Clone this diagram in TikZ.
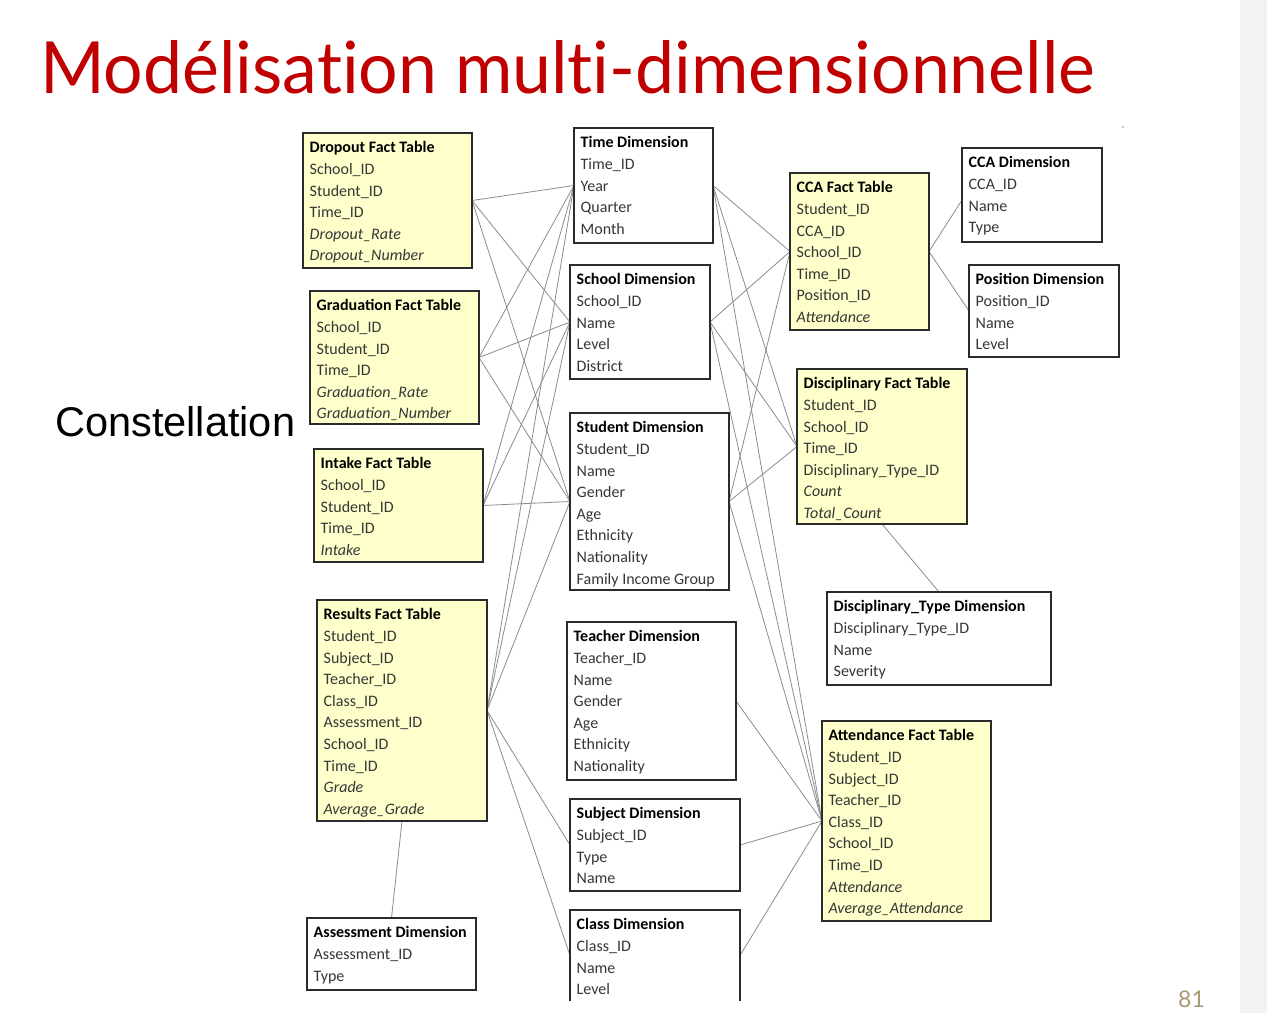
\documentclass[tikz,border=0pt]{standalone}
\usepackage{fontspec}
\setmainfont{Carlito}
\newfontfamily\titlefont[Ligatures=NoCommon]{Lato}
\newfontfamily\arialfont{Liberation Sans}
\usetikzlibrary{backgrounds}
\definecolor{factyellow}{HTML}{FFFFCC}
\definecolor{titlered}{HTML}{C00000}
\definecolor{linegrey}{HTML}{8C8C8C}
\definecolor{boxline}{HTML}{2B2B2B}
\definecolor{bodytext}{HTML}{363636}
\definecolor{pagegrey}{HTML}{F2F2F2}
\definecolor{numtan}{HTML}{A89A72}
\tikzset{
  tbl/.style={draw=boxline, line width=1.4pt, anchor=north west, inner sep=0pt, outer sep=0pt},
  fact/.style={tbl, fill=factyellow},
  dimn/.style={tbl, fill=white},
  txt/.style={anchor=north west, inner sep=0pt, align=left, text=bodytext,
    font=\fontsize{16}{21.6}\selectfont},
  conn/.style={draw=linegrey, line width=0.8pt},
}
\newcommand\hd[1]{\strut\textbf{\textcolor{black}{#1}}}
\newcommand\mkbox[7]{%
  \node[#2, minimum width=#5pt, minimum height=#6pt] (#1) at (#3,#4) {};
  \node[txt] (#1t) at ([shift={(6.5pt,-4.6pt)}]#1.north west) {#7};
}
\begin{document}
\begin{tikzpicture}[x=1pt,y=-1pt]
\useasboundingbox (0,0) rectangle (1267,1013);

% fact tables (left)
\mkbox{drop}{fact}{303}{133}{169}{135}{\hd{Dropout Fact Table}\\School\_ID\\Student\_ID\\Time\_ID\\\textit{Dropout\_Rate}\\\textit{Dropout\_Number}}
\mkbox{grad}{fact}{310}{291}{169}{133}{\hd{Graduation Fact Table}\\School\_ID\\Student\_ID\\Time\_ID\\\textit{Graduation\_Rate}\\\textit{Graduation\_Number}}
\mkbox{intake}{fact}{314}{449}{169}{113}{\hd{Intake Fact Table}\\School\_ID\\Student\_ID\\Time\_ID\\\textit{Intake}}
\mkbox{res}{fact}{317}{600}{170}{221}{\hd{Results Fact Table}\\Student\_ID\\Subject\_ID\\Teacher\_ID\\Class\_ID\\Assessment\_ID\\School\_ID\\Time\_ID\\\textit{Grade}\\\textit{Average\_Grade}}
\mkbox{assess}{dimn}{307}{918}{169}{72}{\hd{Assessment Dimension}\\Assessment\_ID\\Type}

% middle dimensions
\mkbox{time}{dimn}{574}{128}{139}{115}{\hd{Time Dimension}\\Time\_ID\\Year\\Quarter\\Month}
\mkbox{school}{dimn}{570}{265}{140}{114}{\hd{School Dimension}\\School\_ID\\Name\\Level\\District}
\mkbox{student}{dimn}{570}{413}{159}{177}{\hd{Student Dimension}\\Student\_ID\\Name\\Gender\\Age\\Ethnicity\\Nationality\\Family Income Group}
\mkbox{teacher}{dimn}{567}{622}{169}{158}{\hd{Teacher Dimension}\\Teacher\_ID\\Name\\Gender\\Age\\Ethnicity\\Nationality}
\mkbox{subject}{dimn}{570}{799}{170}{92}{\hd{Subject Dimension}\\Subject\_ID\\Type\\Name}
\mkbox{class}{dimn,draw=none}{570}{910}{170}{91}{\hd{Class Dimension}\\Class\_ID\\Name\\Level}
\draw[draw=boxline, line width=1.4pt] (class.south west) -- (class.north west) -- (class.north east) -- (class.south east);

% right side
\mkbox{cca}{fact}{790}{173}{139}{157}{\hd{CCA Fact Table}\\Student\_ID\\CCA\_ID\\School\_ID\\Time\_ID\\Position\_ID\\\textit{Attendance}}
\mkbox{ccadim}{dimn}{962}{148}{140}{94}{\hd{CCA Dimension}\\CCA\_ID\\Name\\Type}
\mkbox{posdim}{dimn}{969}{265}{150}{92}{\hd{Position Dimension}\\Position\_ID\\Name\\Level}
\mkbox{disc}{fact}{797}{369}{170}{155}{\hd{Disciplinary Fact Table}\\Student\_ID\\School\_ID\\Time\_ID\\Disciplinary\_Type\_ID\\\textit{Count}\\\textit{Total\_Count}}
\mkbox{dtype}{dimn}{827}{592}{224}{93}{\hd{Disciplinary\_Type Dimension}\\Disciplinary\_Type\_ID\\Name\\Severity}
\mkbox{attend}{fact}{822}{721}{169}{200}{\hd{Attendance Fact Table}\\Student\_ID\\Subject\_ID\\Teacher\_ID\\Class\_ID\\School\_ID\\Time\_ID\\\textit{Attendance}\\\textit{Average\_Attendance}}

% texts
\node[anchor=base west, inner sep=0pt] (title) at (40,93)
  {\resizebox{1055pt}{53pt}{\titlefont\color{titlered}Modélisation multi-dimensionnelle}};
\node[anchor=base west, inner sep=0pt] (constel) at (55,436)
  {\resizebox{240pt}{!}{\arialfont Constellation}};
\node[anchor=base west, inner sep=0pt, text=numtan, font=\titlefont\fontsize{23}{23}\selectfont] (pagenum) at (1178,1007) {81};

\begin{pgfonlayer}{background}
  \fill[white] (0,0) rectangle (1267,1013);
  \fill[pagegrey] (1240,0) rectangle (1267,1013);
  \fill[linegrey] (1123,127) circle (0.8);
  % left fact tables to dimensions
  \foreach \f in {drop,grad,intake,res}{
    \draw[conn] (\f.east) -- (time.west);
    \draw[conn] (\f.east) -- (school.west);
    \draw[conn] (\f.east) -- (student.west);
  }
  \draw[conn] (res.east) -- (subject.west);
  \draw[conn] (res.east) -- (class.west);
  \draw[conn] (res.south) -- (assess.north);
  % dimensions to right fact tables
  \foreach \d in {time,school,student}{
    \draw[conn] (\d.east) -- (cca.west);
    \draw[conn] (\d.east) -- (disc.west);
    \draw[conn] (\d.east) -- (attend.west);
  }
  \draw[conn] (teacher.east) -- (attend.west);
  \draw[conn] (subject.east) -- (attend.west);
  \draw[conn] (class.east) -- (attend.west);
  \draw[conn] (cca.east) -- ([yshift=-5pt]ccadim.west);
  \draw[conn] (cca.east) -- (posdim.west);
  \draw[conn] (disc.south) -- (dtype.north);
\end{pgfonlayer}
\end{tikzpicture}
\end{document}
